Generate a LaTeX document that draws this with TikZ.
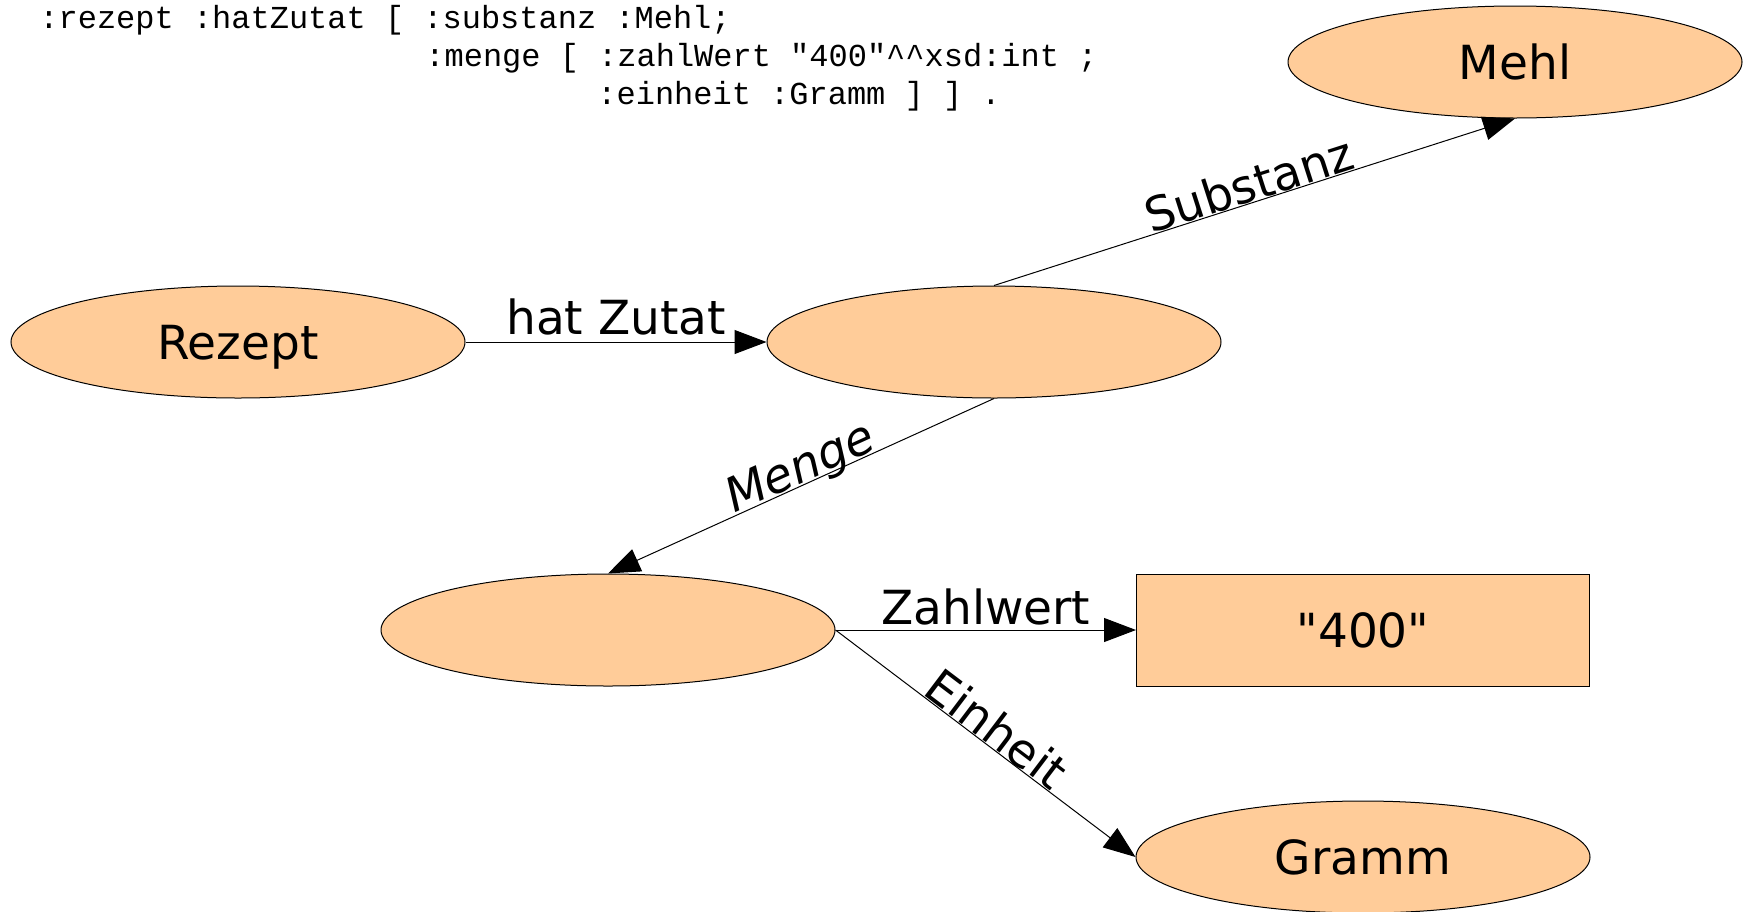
\documentclass[tikz,border=0pt]{standalone}
\usepackage{fontspec}
\setmainfont{DejaVu Sans}
\newfontfamily\schraeg{DejaVu Sans}[FakeSlant=0.2]
\setmonofont{Liberation Mono}
\usetikzlibrary{shapes.geometric,arrows.meta}
\definecolor{pfirsich}{HTML}{FFCC99}

\begin{document}
\begin{tikzpicture}[x=0.5pt,y=-0.5pt,
                    knoten/.style={ellipse,draw=black,fill=pfirsich,line width=0.5pt,
                                   minimum width=227pt,minimum height=56pt,inner sep=0pt,text depth=0pt,
                                   font=\fontsize{23.5}{28}\selectfont},
                    literal/.style={rectangle,draw=black,fill=pfirsich,line width=0.5pt,
                                    minimum width=226.5pt,minimum height=56pt,inner sep=0pt,text depth=0pt,
                                    font=\fontsize{23.5}{28}\selectfont},
                    pfeil/.style={line width=0.5pt,-{Triangle[length=16pt,width=12pt]}},
                    kantentext/.style={font=\fontsize{23.5}{28}\selectfont,inner sep=2pt},
                    turtle/.style={font=\ttfamily\fontsize{16}{19}\selectfont,inner sep=0pt,anchor=base west}]
                                    \useasboundingbox (0,0) rectangle (1744,911);
                                    \coordinate (M) at (1515,62);
                                    \coordinate (R) at (238,342);
                                    \coordinate (Z) at (994,342);
                                    \coordinate (N) at (608,630);
                                    \coordinate (W) at (1363,630);
                                    \coordinate (G) at (1363,857);

                                    % turtle-code
                                    \node[turtle] (zeile1) at (39,28) {:rezept :hatZutat [ :substanz :Mehl;};
                                    \node[turtle] (zeile2) at (425,66) {:menge [ :zahlWert "400"\textasciicircum\textasciicircum xsd:int ;};
                                    \node[turtle] (zeile3) at (597,104) {:einheit :Gramm ] ] .};

                                    % knoten
                                    \node[knoten] (mehl) at (M) {Mehl};
                                    \node[knoten] (rezept) at (R) {Rezept};
                                    \node[knoten] (zutat) at (Z) {};
                                    \node[knoten] (menge) at (N) {};
                                    \node[literal] (wert) at (W) {\textquotedbl 400\textquotedbl};
                                    \node[knoten] (gramm) at (G) {Gramm};

                                    % kanten
                                    \draw[pfeil] (rezept.east) -- node[kantentext,above,inner sep=3pt] {hat Zutat} (zutat.west);
                                    \draw[pfeil] (zutat.north) -- node[kantentext,above,sloped,inner sep=0pt] {Substanz} (mehl.south);
                                    \draw[pfeil] (zutat.south) -- node[kantentext,above=-4pt,sloped,inner sep=0pt,pos=0.49] {\schraeg Menge} (menge.north);
                                    \draw[pfeil] (menge.east) -- node[kantentext,above] {Zahlwert} (wert.west);
                                    \draw[pfeil] (menge.east) -- node[kantentext,above,sloped,inner sep=0pt] {Einheit} (gramm.west);
\end{tikzpicture}
\end{document}
